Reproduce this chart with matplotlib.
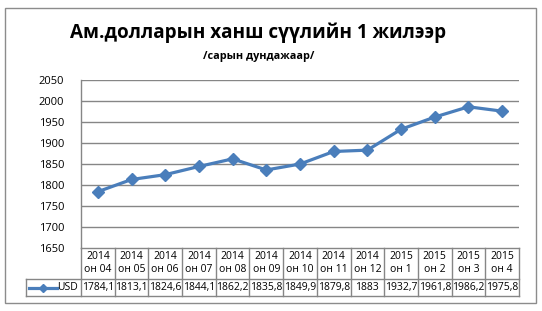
import matplotlib
matplotlib.use("Agg")
import matplotlib.pyplot as plt
from matplotlib.transforms import blended_transform_factory
from matplotlib.patches import Rectangle
from matplotlib.lines import Line2D

years = ["2014"] * 9 + ["2015"] * 4
months = ["он 04", "он 05", "он 06", "он 07", "он 08", "он 09", "он 10",
          "он 11", "он 12", "он 1", "он 2", "он 3", "он 4"]
usd = [1784.1, 1813.1, 1824.6, 1844.1, 1862.2, 1835.8, 1849.9,
       1879.8, 1883, 1932.7, 1961.8, 1986.2, 1975.8]
series_name = "USD"
yticks = [1650, 1700, 1750, 1800, 1850, 1900, 1950, 2000, 2050]
title = "Ам.долларын ханш сүүлийн 1 жилээр"
subtitle = "/сарын дундажаар/"

FONT = ["Open Sans", "DejaVu Sans"]
plt.rcParams["font.family"] = FONT

W, H = 542, 311
fig = plt.figure(figsize=(W / 100, H / 100), dpi=100)
fig.patch.set_facecolor("white")

def fx(px):
    return px / W

def fy(py):
    return 1 - py / H

# outer chart border
fig.patches.append(Rectangle((fx(4.5), fy(302.5)), fx(536) - fx(4.5), fy(7.5) - fy(302.5),
                             transform=fig.transFigure, fill=False, edgecolor="#8c8c8c", lw=1.0))

L, R, T, B = 81, 519, 80, 248
ax = fig.add_axes([fx(L), fy(B), fx(R) - fx(L), fy(T) - fy(B)])
n = len(usd)
ax.set_xlim(-0.5, n - 0.5)
ax.set_ylim(yticks[0], yticks[-1])
ax.set_yticks(yticks)
ax.set_xticks([])
for s in ["top", "right", "bottom"]:
    ax.spines[s].set_visible(False)
ax.spines["left"].set_color("#868686")
ax.spines["left"].set_linewidth(1.0)
ax.tick_params(axis="y", length=0, pad=12, labelsize=8, colors="black")
for y in yticks[1:]:
    ax.axhline(y, color="#868686", lw=1.0, zorder=1)

color = "#4a7ebb"
ax.plot(range(n), usd, color=color, lw=2.3, marker="D", markersize=6,
        markeredgecolor=color, markerfacecolor=color, zorder=3, clip_on=False)

# titles
fig.text(fx(258), fy(33), title, ha="center", va="center", fontsize=13.6,
         fontweight="bold", family=FONT)
fig.text(fx(259), fy(57), subtitle, ha="center", va="center", fontsize=7.8,
         fontweight="bold", family=FONT)

# data table below the axis
tr = blended_transform_factory(ax.transData, ax.transAxes)
ah = B - T

def ay(py):
    return (B - py) / ah

def axf(px):
    return (px - L) / (R - L)

grid_c = "#868686"
hdr_top, hdr_bot, row_bot = 248, 279, 296
ax.add_line(Line2D([-0.5, n - 0.5], [ay(hdr_top), ay(hdr_top)], transform=tr,
                   color=grid_c, lw=1.0, clip_on=False))
for i in range(n + 1):
    xv = i - 0.5
    ax.add_line(Line2D([xv, xv], [ay(hdr_top), ay(row_bot)], transform=tr,
                       color=grid_c, lw=1.0, clip_on=False))
ax.add_line(Line2D([axf(26), 1], [ay(hdr_bot), ay(hdr_bot)], transform=ax.transAxes,
                   color=grid_c, lw=1.0, clip_on=False))
ax.add_line(Line2D([axf(26), 1], [ay(row_bot), ay(row_bot)], transform=ax.transAxes,
                   color=grid_c, lw=1.0, clip_on=False))
ax.add_line(Line2D([axf(26), axf(26)], [ay(hdr_bot), ay(row_bot)], transform=ax.transAxes,
                   color=grid_c, lw=1.0, clip_on=False))

for i in range(n):
    ax.text(i, ay(256.5), years[i], transform=tr, ha="center", va="center", fontsize=7.5)
    ax.text(i, ay(269.5), months[i], transform=tr, ha="center", va="center", fontsize=7.5)
    v = usd[i]
    s = (f"{v:.1f}".replace(".", ",")) if v != int(v) else str(int(v))
    ax.text(i, ay(287.5), s, transform=tr, ha="center", va="center", fontsize=7.5)

# legend key in table
ax.add_line(Line2D([axf(29), axf(57)], [ay(287.5), ay(287.5)], transform=ax.transAxes,
                   color=color, lw=2.3, clip_on=False))
ax.add_line(Line2D([axf(43)], [ay(287.5)], transform=ax.transAxes, marker="D",
                   markersize=4, color=color, clip_on=False))
ax.text(axf(78), ay(287.5), series_name, transform=ax.transAxes, ha="right",
        va="center", fontsize=7.5)

fig.savefig("out.png", dpi=100, facecolor="white")
